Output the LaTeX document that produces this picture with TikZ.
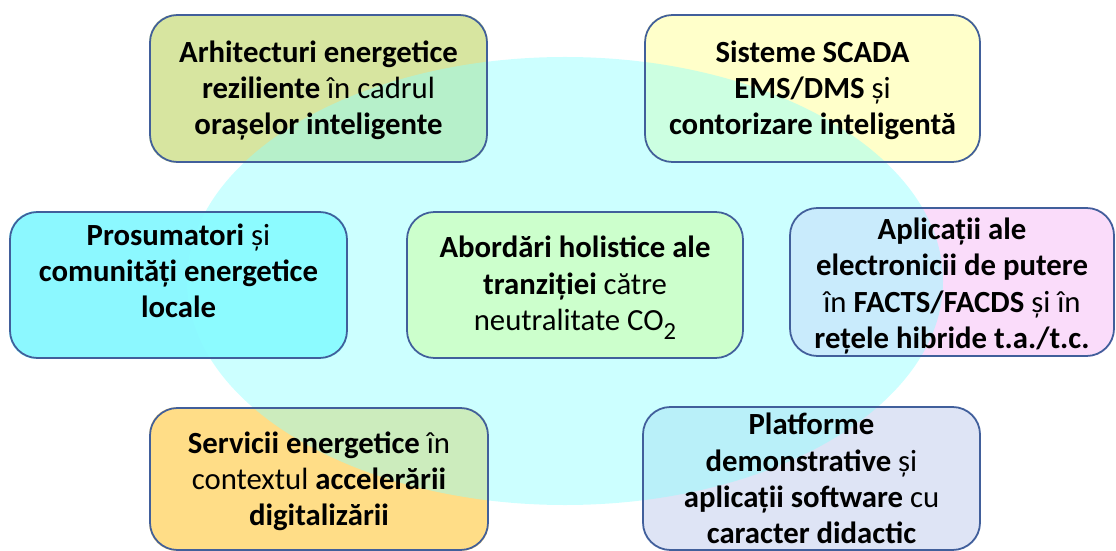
\documentclass[tikz,border=0pt]{standalone}
\usepackage{fontspec}
\setmainfont{Carlito}
\pgfdeclarelayer{back}
\pgfdeclarelayer{mid}
\pgfsetlayers{back,mid,main}
\definecolor{cTL}{RGB}{215,229,160}
\definecolor{cTR}{RGB}{255,255,202}
\definecolor{cML}{RGB}{140,248,255}
\definecolor{cC}{RGB}{204,255,204}
\definecolor{cMR}{RGB}{250,220,250}
\definecolor{cBL}{RGB}{255,221,135}
\definecolor{cBR}{RGB}{222,228,245}
\definecolor{cEll}{RGB}{142,255,255}
\definecolor{cBorder}{RGB}{65,95,155}
\begin{document}
\begin{tikzpicture}[x=0.2mm,y=-0.2mm,
  boxline/.style={draw=cBorder, line width=1pt, rounded corners=5.5mm, inner sep=0pt},
  boxfill/.style={rounded corners=5.5mm},
  txt/.style={align=center, font=\fontsize{17.5pt}{20.6pt}\selectfont, text=black, inner sep=0pt}]
\useasboundingbox (0,0) rectangle (1116,551);
% box outlines
\node[boxline, minimum width=67.4mm, minimum height=29.4mm] (b1) at (318.5,88.5) {};
\node[boxline, minimum width=67.0mm, minimum height=29.4mm] (b2) at (812.5,88.5) {};
\node[boxline, minimum width=67.4mm, minimum height=29.2mm] (b3) at (178.5,285) {};
\node[boxline, fill=cC, minimum width=67.2mm, minimum height=29.2mm] (b4) at (575,285) {};
\node[boxline, minimum width=64.8mm, minimum height=29.6mm] (b5) at (952,282) {};
\node[boxline, minimum width=67.6mm, minimum height=28.4mm] (b6) at (319,479) {};
\node[boxline, minimum width=67.4mm, minimum height=28.6mm] (b7) at (811.5,478.5) {};
% box fills
\begin{pgfonlayer}{back}
\fill[cTL, boxfill] (b1.south west) rectangle (b1.north east);
\fill[cTR, boxfill] (b2.south west) rectangle (b2.north east);
\fill[cML, boxfill] (b3.south west) rectangle (b3.north east);
\fill[cMR, boxfill] (b5.south west) rectangle (b5.north east);
\fill[cBL, boxfill] (b6.south west) rectangle (b6.north east);
\fill[cBR, boxfill] (b7.south west) rectangle (b7.north east);
\end{pgfonlayer}
% ellipse
\begin{pgfonlayer}{mid}
\fill[cEll, fill opacity=0.45] (565,281) ellipse [x radius=75.6mm, y radius=44.8mm];
\end{pgfonlayer}
% texts
\node[txt] (t1) at ([yshift=-0.4mm]b1.center) {\textbf{Arhitecturi energetice}\\\textbf{reziliente} în cadrul\\\textbf{orașelor inteligente}};
\node[txt] (t2) at ([yshift=-0.4mm]b2.center) {\textbf{Sisteme SCADA}\\\textbf{EMS/DMS} și\\\textbf{contorizare inteligentă}};
\node[txt] (t3) at ([yshift=2.8mm]b3.center) {\textbf{Prosumatori} și\\\textbf{comunități energetice}\\\textbf{locale}};
\node[txt] (t4) at ([yshift=-0.6mm]b4.center) {\textbf{Abordări holistice ale}\\\textbf{tranziției} către\\neutralitate CO\raisebox{-0.3em}{\fontsize{14pt}{14pt}\selectfont 2}};
\node[txt] (t5) at ([yshift=-0.8mm]b5.center) {\textbf{Aplicații ale}\\\textbf{electronicii de putere}\\în \textbf{FACTS/FACDS} și în\\\textbf{rețele hibride t.a./t.c.}};
\node[txt] (t6) at ([yshift=-0.4mm]b6.center) {\textbf{Servicii energetice} în\\contextul \textbf{accelerării}\\\textbf{digitalizării}};
\node[txt] (t7) at (b7) {\textbf{Platforme}\\\textbf{demonstrative} și\\\textbf{aplicații software} cu\\\textbf{caracter didactic}};
\end{tikzpicture}
\end{document}
